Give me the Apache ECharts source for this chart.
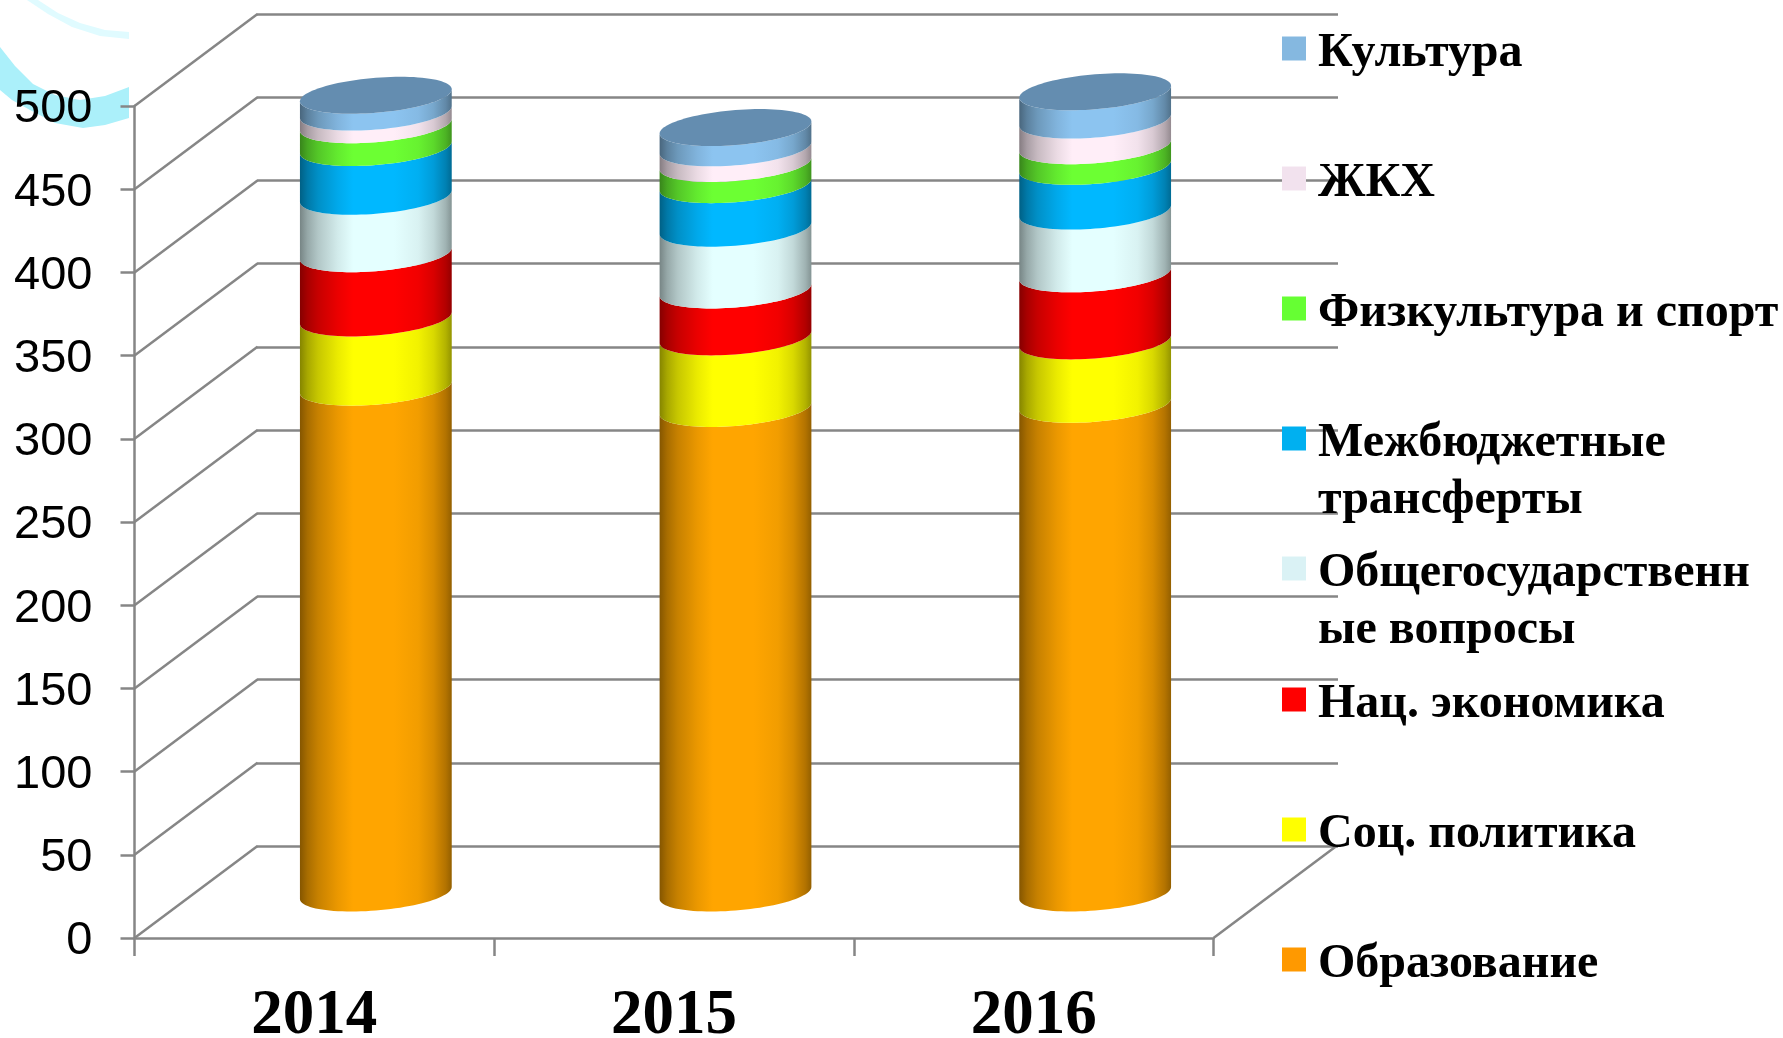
<!DOCTYPE html>
<html lang="ru">

<head>
    <meta charset="UTF-8">
    <title>Расходы бюджета</title>
    <style>
        html, body { margin: 0; padding: 0; background: #fff; }
        #container { width: 1783px; height: 1038px; }
    </style>
    <script src="https://cdn.jsdelivr.net/npm/echarts@6/dist/echarts.min.js"></script>
</head>

<body>
    <div id="container"></div>
    <script>
        var years = ['2014', '2015', '2016'];
        var yTicks = [0, 50, 100, 150, 200, 250, 300, 350, 400, 450, 500];

        // bottom to top, same order as the stack
        var obrazovanie = [304, 291.2, 293.7];
        var socPolitika = [41.6, 43, 38.1];
        var nacEkonomika = [38.6, 28.2, 40.3];
        var obshchegos = [34.5, 37.1, 37.7];
        var mezhbyudzhet = [29.3, 26.2, 26.9];
        var fizkultura = [13.7, 12.7, 12.4];
        var zhkh = [7.6, 9.4, 15.4];
        var kultura = [10.1, 12.2, 17];

        var seriesValues = [obrazovanie, socPolitika, nacEkonomika, obshchegos, mezhbyudzhet, fizkultura, zhkh, kultura];
        var seriesNames = ['Образование', 'Соц. политика', 'Нац. экономика', 'Общегосударственные вопросы',
            'Межбюджетные трансферты', 'Физкультура и спорт', 'ЖКХ', 'Культура'];
        var legendLabels = [['Образование'], ['Соц. политика'], ['Нац. экономика'], ['Общегосударственн', 'ые вопросы'],
            ['Межбюджетные', 'трансферты'], ['Физкультура и спорт'], ['ЖКХ'], ['Культура']];
        var legendColors = ['#ff9900', '#ffff00', '#ff0000', '#daf2f5', '#00b0f0', '#66ff33', '#f2e2ee', '#85b8e0'];
        var faceColors = ['#ffa500', '#ffff00', '#ff0000', '#e4ffff', '#00b8ff', '#6cff33', '#ffeef8', '#8cc4f0'];
        var capColor = '#648db0';

        var axisColor = '#868686';
        var axisWidth = 2.5;
        var depthX = 123, depthY = 92; // floor depth, front edge to back wall
        var skew = 6, ryFlat = 17.5;   // tilt of the cylinder ellipses

        function shade(hex, k) {
            var n = parseInt(hex.slice(1), 16);
            var r = Math.round((n >> 16) * k), g = Math.round(((n >> 8) & 255) * k), b = Math.round((n & 255) * k);
            return 'rgb(' + r + ',' + g + ',' + b + ')';
        }

        function faceGradient(hex) {
            var stops = [[0, .52], [.05, .66], [.12, .78], [.25, .92], [.35, 1], [.62, 1], [.78, .95], [.88, .85], [.96, .7], [1, .58]];
            return {
                type: 'linear', x: 0, y: 0, x2: 1, y2: 0,
                colorStops: stops.map(function (s) { return { offset: s[0], color: shade(hex, s[1]) }; })
            };
        }

        function ellipsePoint(cx, cy, rx, t) {
            return [cx + rx * Math.cos(t), cy - skew * Math.cos(t) + ryFlat * Math.sin(t)];
        }

        function cylinderItem(idx) {
            return function (params, api) {
                var cat = api.value(0);
                var low = api.coord([cat, api.value(1)]);
                var high = api.coord([cat, api.value(2)]);
                var rx = api.size([1, 0])[0] * 0.211;
                var pts = [], i, steps = 48;
                for (i = 0; i <= steps; i++) {
                    pts.push(ellipsePoint(low[0], low[1], rx, Math.PI - Math.PI * i / steps));
                }
                for (i = steps; i >= 0; i--) {
                    pts.push(ellipsePoint(high[0], high[1], rx, Math.PI - Math.PI * i / steps));
                }
                var children = [{
                    type: 'polygon',
                    shape: { points: pts },
                    style: { fill: faceGradient(faceColors[idx]) }
                }];
                if (idx === seriesValues.length - 1) {
                    var cap = [];
                    for (i = 0; i < 96; i++) {
                        cap.push(ellipsePoint(high[0], high[1], rx, 2 * Math.PI * i / 96));
                    }
                    children.push({ type: 'polygon', shape: { points: cap }, style: { fill: capColor } });
                }
                return { type: 'group', children: children };
            };
        }

        var series = [];
        // floor and side edges going back to the wall
        series.push({
            type: 'custom', name: 'depth', xAxisIndex: 0, yAxisIndex: 0, silent: true, z: 1,
            data: yTicks.map(function (v) { return [0, v]; }),
            renderItem: function (params, api) {
                var y = api.coord([0, api.value(1)])[1];
                var x = params.coordSys.x;
                return {
                    type: 'line',
                    shape: { x1: x, y1: y, x2: x + depthX, y2: y - depthY },
                    style: { stroke: axisColor, lineWidth: axisWidth }
                };
            }
        });
        series.push({
            type: 'custom', name: 'depthRight', xAxisIndex: 0, yAxisIndex: 0, silent: true, z: 1,
            data: [[2, 0]],
            renderItem: function (params, api) {
                var y = api.coord([0, 0])[1];
                var x = params.coordSys.x + params.coordSys.width;
                return {
                    type: 'line',
                    shape: { x1: x, y1: y, x2: x + depthX, y2: y - depthY },
                    style: { stroke: axisColor, lineWidth: axisWidth }
                };
            }
        });

        var stackBase = [0, 0, 0];
        seriesValues.forEach(function (vals, idx) {
            var rows = vals.map(function (v, c) {
                var row = [c, stackBase[c], stackBase[c] + v];
                stackBase[c] += v;
                return row;
            });
            series.push({
                type: 'custom',
                name: seriesNames[idx],
                xAxisIndex: 2,
                yAxisIndex: 2,
                z: 3,
                itemStyle: { color: legendColors[idx] },
                encode: { x: 0, y: 2 },
                data: rows,
                renderItem: cylinderItem(idx)
            });
        });

        // one legend per entry, they sit on an even step whatever the line count
        var legendCenters = [959, 829, 699, 568, 438, 308, 178, 48];
        var legendLine = 57;
        var legendDrop = 10; // text sits a little under its marker
        var legends = seriesNames.map(function (name, idx) {
            var lines = legendLabels[idx];
            // spacer line on top puts the marker level with the first text line
            var spacer = legendLine * (lines.length - 1) + legendDrop;
            var text = '{s| }\n' + lines.map(function (l) { return '{t|' + l + '}'; }).join('\n');
            return {
                left: 1282,
                top: legendCenters[idx] - legendLine * lines.length / 2,
                padding: 0,
                orient: 'vertical',
                selectedMode: false,
                icon: 'rect',
                itemWidth: 24,
                itemHeight: 24,
                data: [name],
                formatter: function () { return text; },
                textStyle: {
                    rich: {
                        s: { fontSize: 1, lineHeight: spacer },
                        t: {
                            fontFamily: 'Liberation Serif',
                            fontWeight: 'bold',
                            fontSize: 48,
                            lineHeight: legendLine,
                            color: '#000',
                            padding: [0, 0, 0, 7]
                        }
                    }
                },
                z: 6
            };
        });

        var hiddenX = { type: 'category', data: years, show: false };
        var hiddenY = {
            type: 'value', min: 0, max: 500, interval: 50,
            axisLine: { show: false }, axisTick: { show: false }, axisLabel: { show: false }
        };

        var option = {
            animation: false,
            backgroundColor: '#fff',
            legend: legends,
            grid: [
                { left: 134.5, top: 106, width: 1079, height: 832, outerBoundsMode: 'none' },      // front plane, carries the visible axes
                { left: 257, top: 14, width: 1081, height: 832, outerBoundsMode: 'none' },         // back wall
                { left: 196, top: 61, width: 1079, height: 832, outerBoundsMode: 'none' }          // plane through the cylinder axes
            ],
            xAxis: [
                {
                    type: 'category',
                    gridIndex: 0,
                    data: years,
                    axisLine: { show: true, lineStyle: { color: axisColor, width: axisWidth } },
                    axisTick: { show: true, length: 18, alignWithLabel: false, lineStyle: { color: axisColor, width: axisWidth } },
                    axisLabel: {
                        margin: 47,
                        fontFamily: 'Liberation Serif',
                        fontWeight: 'bold',
                        fontSize: 63,
                        color: '#000'
                    }
                },
                Object.assign({ gridIndex: 1 }, hiddenX),
                Object.assign({ gridIndex: 2 }, hiddenX)
            ],
            yAxis: [
                {
                    type: 'value',
                    gridIndex: 0,
                    min: 0,
                    max: 500,
                    interval: 50,
                    axisLine: { show: true, lineStyle: { color: axisColor, width: axisWidth } },
                    axisTick: { show: true, length: 14, lineStyle: { color: axisColor, width: axisWidth } },
                    splitLine: { show: false },
                    axisLabel: {
                        margin: 42,
                        fontFamily: 'Liberation Sans',
                        fontSize: 47,
                        color: '#000',
                        verticalAlign: 'top',
                        lineHeight: 7,
                        formatter: function (v) { return String(v); }
                    }
                },
                Object.assign({ gridIndex: 1, splitLine: { show: true, lineStyle: { color: axisColor, width: axisWidth } } }, hiddenY),
                Object.assign({ gridIndex: 2, splitLine: { show: false } }, hiddenY)
            ],
            // slide decoration behind the top axis label
            graphic: [
                {
                    type: 'polygon', z: 0, silent: true,
                    shape: { points: [[27, 0], [38, 0], [58, 13], [80, 23], [105, 30], [129, 32], [129, 39], [100, 36], [72, 27], [48, 14]] },
                    style: { fill: '#e0fbff' }
                },
                {
                    type: 'polygon', z: 0, silent: true,
                    shape: { points: [[0, 47], [15, 66], [33, 84], [55, 95], [80, 100], [105, 96], [129, 87], [129, 118], [105, 125], [83, 128], [55, 123], [30, 110], [12, 100], [0, 90]] },
                    style: { fill: '#abf0fa' }
                }
            ],
            series: series
        };

        var dom = document.getElementById('container');
        var myChart = echarts.init(dom);
        myChart.setOption(option);
    </script>
</body>

</html>
